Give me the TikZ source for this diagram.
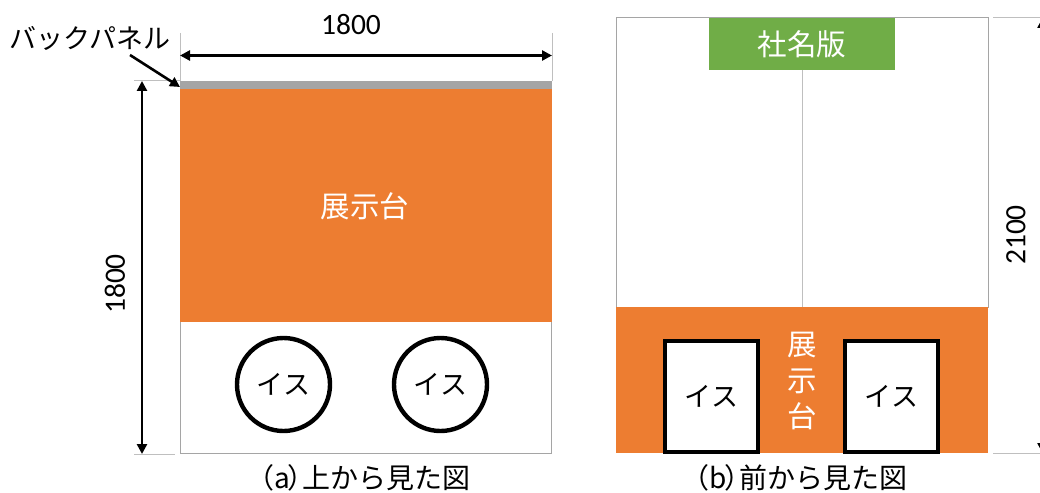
\documentclass[tikz,border=0pt]{standalone}
\usepackage{fontspec}
\setmainfont{Noto Sans CJK JP}
\newfontfamily\numfont{Carlito}
\usepackage{xcolor}
\usetikzlibrary{arrows.meta}
\definecolor{standorange}{HTML}{ED7D31}
\definecolor{signgreen}{HTML}{70AD47}
\definecolor{panelgray}{HTML}{A5A5A5}
\definecolor{extgray}{HTML}{BFBFBF}
\tikzset{
  label27/.style={font=\fontsize{27}{30}\selectfont, inner sep=0pt},
  whitelabel/.style={font=\fontsize{29.5}{32}\selectfont, inner sep=0pt, text=white},
  dimnum/.style={font=\numfont\fontsize{29.5}{32}\selectfont, inner sep=0pt},
  seatround/.style={circle, draw=black, line width=4.4pt, fill=white, minimum size=93pt, inner sep=0pt, label27},
  seatfront/.style={rectangle, draw=black, line width=4.4pt, fill=white, minimum width=93pt, minimum height=111pt, inner sep=0pt, label27},
  extline/.style={draw=extgray, line width=1pt},
  dimarrow/.style={{Triangle[length=10pt,width=10pt]}-{Triangle[length=10pt,width=10pt]}, line width=2.6pt},
}
\begin{document}
\begin{tikzpicture}[x=1pt, y=-1pt]
\useasboundingbox (0,0) rectangle (1040,492);

%draw top view
\draw[draw=panelgray, line width=1pt, fill=white] (180,82) rectangle (551.5,453.5);
\fill[standorange] (180,89) rectangle (552,322);
\fill[panelgray] (180,81) rectangle (552,89);
\node[whitelabel] (standA) at (365,206) {展示台};
\node[seatround] (seatA) at (283.5,384.5) {イス};
\node[seatround] (seatB) at (440.5,384.5) {イス};

%draw front view
\draw[draw=panelgray, line width=1pt, fill=white] (616,18) rectangle (988,307);
\fill[standorange] (616,307) rectangle (988,453);
\fill[signgreen] (709,18) rectangle (895,70);
\node[whitelabel] (sign) at (802,44) {社名版};
\coordinate (lineA) at (802.5,70);
\coordinate (lineB) at (802.5,307);
\draw[extline] (lineA) -- (lineB);
\node[seatfront] (seatC) at (711.5,396.5) {イス};
\node[seatfront] (seatD) at (891.5,396.5) {イス};
\node[whitelabel, align=center, font=\fontsize{29.5}{36}\selectfont] (standB) at (802,381) {展\\示\\台};

%draw extension lines
\coordinate (topL) at (180,33);
\coordinate (topLb) at (180,81);
\coordinate (topR) at (552,33);
\coordinate (topRb) at (552,81);
\coordinate (sideA) at (134,81);
\coordinate (sideAb) at (180,81);
\coordinate (sideB) at (134,454);
\coordinate (sideBb) at (175,454);
\coordinate (sideC) at (993,18);
\coordinate (sideCb) at (1040,18);
\coordinate (sideD) at (993,453.5);
\coordinate (sideDb) at (1040,453.5);
\foreach \a/\b in {topL/topLb,topR/topRb,sideA/sideAb,sideB/sideBb,sideC/sideCb,sideD/sideDb}
   \draw[extline] (\a) -- (\b);

%draw dimensions
\coordinate (dimAa) at (180,55.5);
\coordinate (dimAb) at (552,55.5);
\coordinate (dimBa) at (142,81);
\coordinate (dimBb) at (142,454);
\coordinate (dimCa) at (1042.5,18);
\coordinate (dimCb) at (1042.5,453);
\draw[dimarrow] (dimAa) -- (dimAb);
\draw[dimarrow] (dimBa) -- (dimBb);
\draw[dimarrow] (dimCa) -- (dimCb);
\node[dimnum] (widthA) at (351,25) {1800};
\node[dimnum, rotate=90] (depthA) at (115,284) {1800};
\node[dimnum, rotate=90] (heightB) at (1016,235) {2100};

%draw panel label
\node[label27] (back) at (90,38) {バックパネル};
\coordinate (backEnd) at (180,87);
\coordinate (backStart) at (130,55);
\draw[-{Triangle[length=10pt,width=10pt]}, line width=2.6pt] (backStart) -- (backEnd);

%draw captions
\node[font=\fontsize{28}{30}\selectfont, inner sep=0pt] (capA) at (365,478) {\kern-.45em（a\kern-.1em）\kern-.45em 上から見た図};
\node[font=\fontsize{28}{30}\selectfont, inner sep=0pt] (capB) at (801,478) {\kern-.45em（b\kern-.1em）\kern-.45em 前から見た図};
\end{tikzpicture}
\end{document}
